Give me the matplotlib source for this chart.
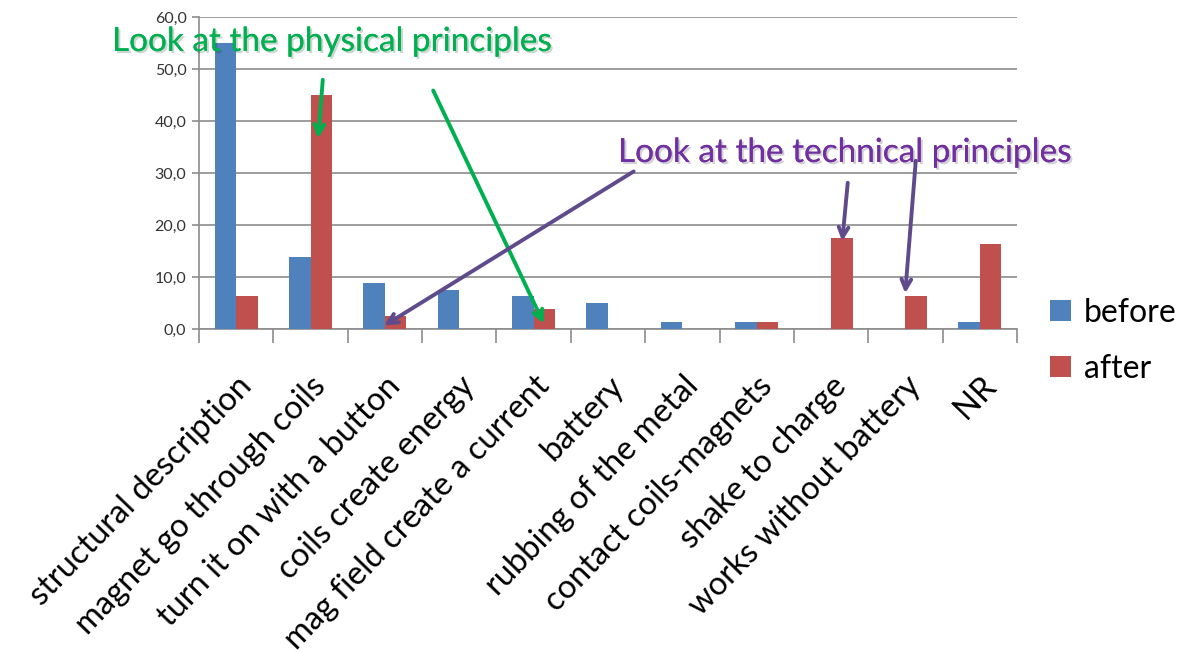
import numpy as np
import matplotlib.pyplot as plt
import matplotlib.patheffects as pe

categories = ['structural description', 'magnet go through coils', 'turn it on with a button',
              'coils create energy', 'mag field create a current', 'battery',
              'rubbing of the metal', 'contact coils-magnets', 'shake to charge',
              'works without battery', 'NR']
before = [55.0, 13.8, 8.8, 7.5, 6.3, 5.0, 1.3, 1.3, 0.0, 0.0, 1.3]
after = [6.3, 45.0, 2.5, 0.0, 3.8, 0.0, 0.0, 1.3, 17.5, 6.3, 16.3]
yticks = [0, 10, 20, 30, 40, 50, 60]

plt.rcParams['font.family'] = ['Lato', 'DejaVu Sans']

W, H = 1186, 653
fig = plt.figure(figsize=(W / 100, H / 100), dpi=100)
ax = fig.add_axes([199 / W, 1 - 329 / H, (1017 - 199) / W, (329 - 17) / H])

x = np.arange(len(categories))
bw = 0.29
ax.bar(x - bw / 2, before, bw, color='#4F81BD', label='before', zorder=3)
ax.bar(x + bw / 2, after, bw, color='#C0504D', label='after', zorder=3)

ax.set_xlim(-0.5, len(categories) - 0.5)
ax.set_ylim(0, 60)
ax.set_yticks(yticks)
ax.set_yticklabels([('%.1f' % v).replace('.', ',') for v in yticks], fontsize=11.5, color='#333333')
ax.yaxis.grid(True, color='#8c8c8c', linewidth=1.2, zorder=0)

ax.set_xticks(x)
ax.set_xticklabels(categories, rotation=46, ha='right', rotation_mode='anchor', fontsize=23.5)
ax.tick_params(axis='x', length=0, pad=30)
ax.set_xticks(np.arange(-0.5, len(categories)), minor=True)
ax.tick_params(axis='x', which='minor', length=10, color='#8c8c8c', width=1.2)
ax.tick_params(axis='y', length=5, color='#8c8c8c', width=1.2, pad=4)

for s in ['top', 'right']:
    ax.spines[s].set_visible(False)
for s in ['left', 'bottom']:
    ax.spines[s].set_color('#8c8c8c')
    ax.spines[s].set_linewidth(1.2)

def fx(px, py):
    return (px / W, 1 - py / H)

leg = ax.legend(loc='upper left', bbox_to_anchor=fx(1050, 298), bbox_transform=fig.transFigure,
                frameon=False, fontsize=23, handlelength=0.65, handleheight=0.65,
                handletextpad=0.4, labelspacing=0.8, borderpad=0, borderaxespad=0)

green = '#00B050'
purple = '#7030A0'
arrow_purple = '#5F4B8B'
shadow = [pe.withSimplePatchShadow(offset=(1.5, -1.5), alpha=0.2), pe.Normal()]

fig.text(*fx(112, 42), 'Look at the physical principles', color=green, fontsize=24,
         va='center', ha='left', path_effects=shadow)
fig.text(*fx(618, 153), 'Look at the technical principles', color=purple, fontsize=24,
         va='center', ha='left', path_effects=shadow)

def arrow(p0, p1, color):
    ax.annotate('', xy=fx(*p1), xytext=fx(*p0), xycoords='figure fraction',
                textcoords='figure fraction',
                arrowprops=dict(arrowstyle='->,head_length=0.7,head_width=0.35',
                                color=color, lw=2.8), zorder=5)

arrow((323, 77), (318, 141), green)
arrow((432, 88), (545, 326), green)
arrow((636, 170), (382, 327), arrow_purple)
arrow((848, 180), (842, 244), arrow_purple)
arrow((916, 158), (905, 296), arrow_purple)

fig.savefig('out.png', dpi=100)
